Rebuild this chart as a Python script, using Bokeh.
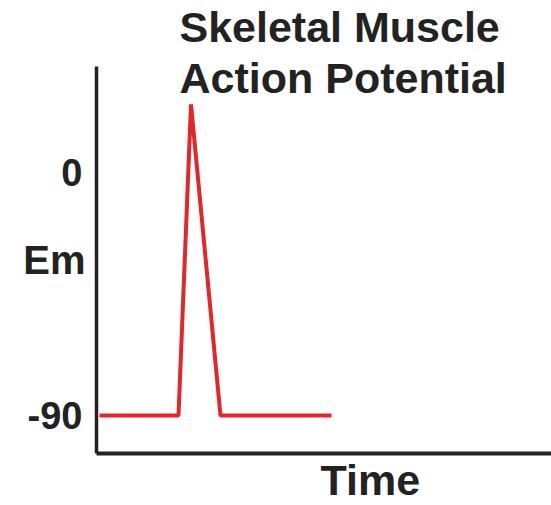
from bokeh.plotting import figure
from bokeh.models import FixedTicker, Range1d, Title
from bokeh.embed import file_html
from bokeh.resources import INLINE

# Data (time in arbitrary ms units, membrane potential in mV)
time_ms = [0.3, 8.2, 9.45, 12.4, 23.5]
em_mv = [-90, -90, 25, -90, -90]
y_ticks = [-90, 0]
y_tick_labels = {-90: "-90", 0: "0"}
title_lines = ["Skeletal Muscle", "Action Potential"]
x_label = "Time"
y_label = "Em"

FONT = "Liberation Sans"
INK = "#222222"

p = figure(width=551, height=505, output_backend="svg", toolbar_location=None,
           x_range=Range1d(0, 45.5), y_range=Range1d(-104, 39),
           min_border_left=96, min_border_right=0, min_border_top=66, min_border_bottom=52)

p.line(time_ms, em_mv, line_color="#e2262a", line_width=4)

p.grid.visible = False
p.outline_line_color = None
p.background_fill_color = "white"
p.border_fill_color = "white"

# Title
p.title.text = "\n".join(title_lines)
p.title.align = "left"
p.title.offset = 83
p.title.text_font = FONT
p.title.text_font_style = "bold"
p.title.text_font_size = "43px"
p.title.text_line_height = 1.07
p.title.text_color = INK
p.title.standoff = -71

# Y axis
ya = p.yaxis[0]
ya.ticker = FixedTicker(ticks=y_ticks)
ya.major_label_overrides = y_tick_labels
ya.major_tick_line_color = None
ya.minor_tick_line_color = None
ya.axis_line_width = 3.5
ya.axis_line_color = INK
ya.major_label_text_font = FONT
ya.major_label_text_font_style = "bold"
ya.major_label_text_font_size = "38px"
ya.major_label_text_color = INK
ya.major_label_standoff = 8
ya.axis_label = y_label
ya.axis_label_orientation = "horizontal"
ya.axis_label_text_font = FONT
ya.axis_label_text_font_style = "bold"
ya.axis_label_text_font_size = "40px"
ya.axis_label_text_color = INK
ya.axis_label_standoff = -61

# X axis
xa = p.xaxis[0]
xa.ticker = FixedTicker(ticks=[])
xa.major_tick_line_color = None
xa.minor_tick_line_color = None
xa.major_label_text_font_size = "0px"
xa.axis_line_width = 4
xa.axis_line_color = INK

# X axis caption, placed off-centre as in the reference
p.add_layout(Title(text=x_label, align="left", offset=224, standoff=0,
                   text_font=FONT, text_font_style="bold", text_font_size="43px",
                   text_color=INK), "below")

open("out.html", "w").write(file_html(p, INLINE))
